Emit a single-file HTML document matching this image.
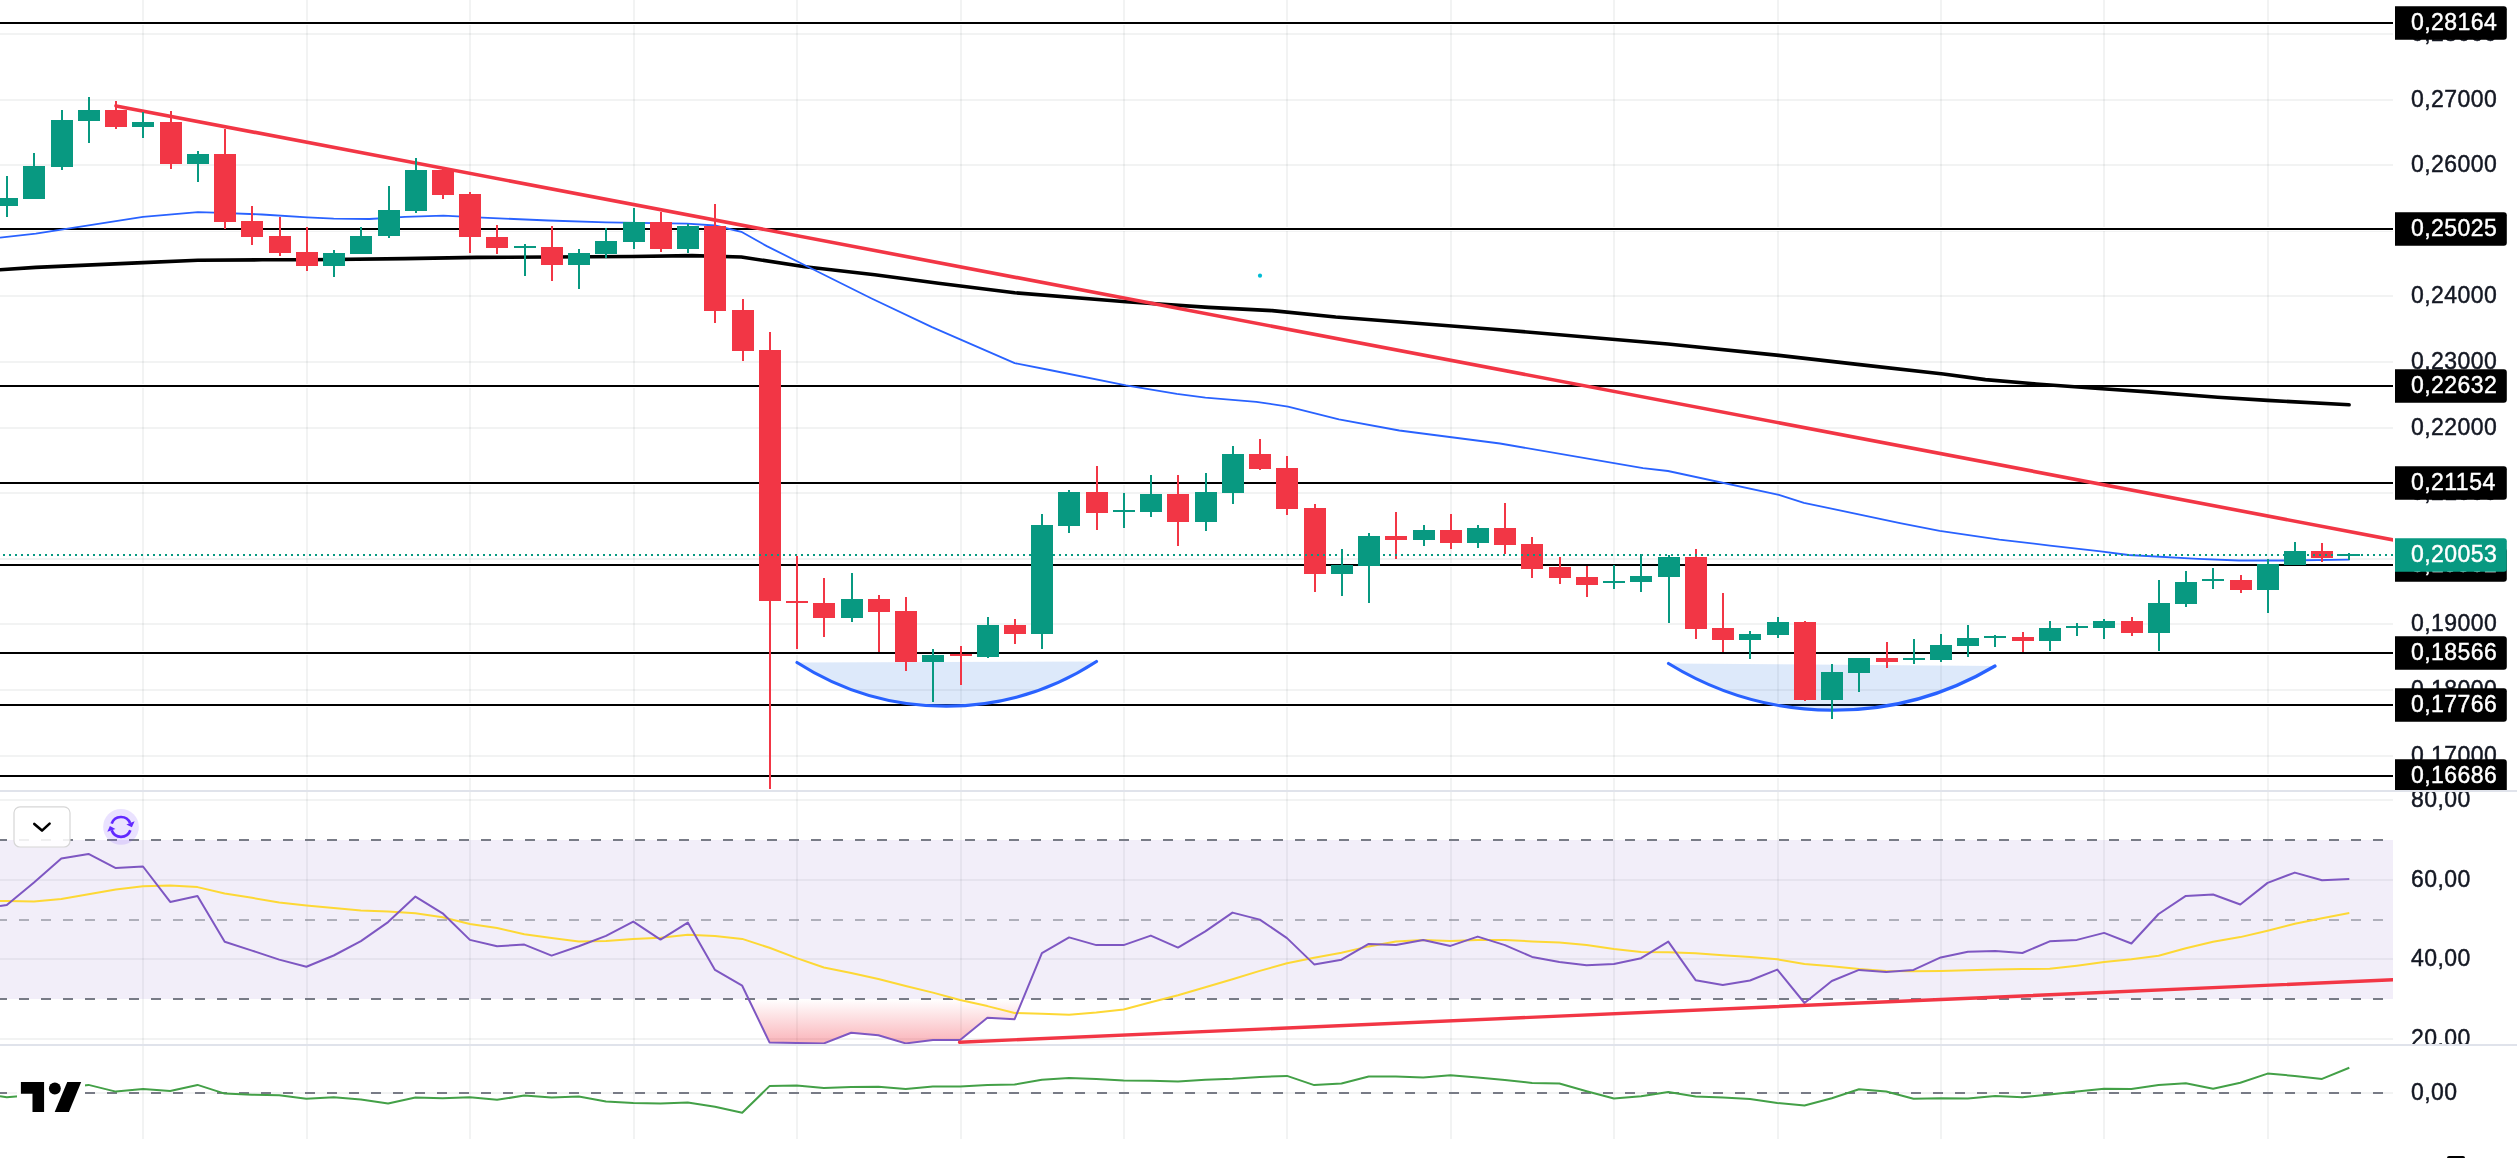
<!DOCTYPE html><html><head><meta charset="utf-8"><style>html,body{margin:0;padding:0;background:#fff;width:2517px;height:1158px;overflow:hidden}svg{display:block;will-change:transform}text{font-family:"Liberation Sans",sans-serif;font-size:23px;letter-spacing:0.48px;stroke-width:0.45px;paint-order:stroke}</style></head><body><svg width="2517" height="1158" viewBox="0 0 2517 1158"><defs><clipPath id="cm"><rect x="0" y="0" width="2393" height="790"/></clipPath><clipPath id="cr"><rect x="0" y="792" width="2393" height="252"/></clipPath><clipPath id="cb"><rect x="0" y="1046" width="2393" height="112"/></clipPath><clipPath id="am"><rect x="2393" y="0" width="124" height="790"/></clipPath><clipPath id="ar"><rect x="2393" y="792" width="124" height="252"/></clipPath><linearGradient id="os" gradientUnits="userSpaceOnUse" x1="0" y1="999" x2="0" y2="1118"><stop offset="0" stop-color="#F23645" stop-opacity="0"/><stop offset="1" stop-color="#F23645" stop-opacity="1"/></linearGradient></defs><rect width="2517" height="1158" fill="#fff"/><g shape-rendering="crispEdges"><rect x="142" y="0" width="2" height="1139" fill="rgba(42,46,57,0.06)"/><rect x="306" y="0" width="2" height="1139" fill="rgba(42,46,57,0.06)"/><rect x="469" y="0" width="2" height="1139" fill="rgba(42,46,57,0.06)"/><rect x="633" y="0" width="2" height="1139" fill="rgba(42,46,57,0.06)"/><rect x="796" y="0" width="2" height="1139" fill="rgba(42,46,57,0.06)"/><rect x="960" y="0" width="2" height="1139" fill="rgba(42,46,57,0.06)"/><rect x="1123" y="0" width="2" height="1139" fill="rgba(42,46,57,0.06)"/><rect x="1286" y="0" width="2" height="1139" fill="rgba(42,46,57,0.06)"/><rect x="1450" y="0" width="2" height="1139" fill="rgba(42,46,57,0.06)"/><rect x="1613" y="0" width="2" height="1139" fill="rgba(42,46,57,0.06)"/><rect x="1777" y="0" width="2" height="1139" fill="rgba(42,46,57,0.06)"/><rect x="1940" y="0" width="2" height="1139" fill="rgba(42,46,57,0.06)"/><rect x="2103" y="0" width="2" height="1139" fill="rgba(42,46,57,0.06)"/><rect x="2267" y="0" width="2" height="1139" fill="rgba(42,46,57,0.06)"/><rect x="0" y="33" width="2393" height="2" fill="rgba(42,46,57,0.06)"/><rect x="0" y="99" width="2393" height="2" fill="rgba(42,46,57,0.06)"/><rect x="0" y="164" width="2393" height="2" fill="rgba(42,46,57,0.06)"/><rect x="0" y="230" width="2393" height="2" fill="rgba(42,46,57,0.06)"/><rect x="0" y="295" width="2393" height="2" fill="rgba(42,46,57,0.06)"/><rect x="0" y="361" width="2393" height="2" fill="rgba(42,46,57,0.06)"/><rect x="0" y="427" width="2393" height="2" fill="rgba(42,46,57,0.06)"/><rect x="0" y="492" width="2393" height="2" fill="rgba(42,46,57,0.06)"/><rect x="0" y="558" width="2393" height="2" fill="rgba(42,46,57,0.06)"/><rect x="0" y="623" width="2393" height="2" fill="rgba(42,46,57,0.06)"/><rect x="0" y="689" width="2393" height="2" fill="rgba(42,46,57,0.06)"/><rect x="0" y="755" width="2393" height="2" fill="rgba(42,46,57,0.06)"/><rect x="0" y="799" width="2393" height="2" fill="rgba(42,46,57,0.06)"/><rect x="0" y="879" width="2393" height="2" fill="rgba(42,46,57,0.06)"/><rect x="0" y="958" width="2393" height="2" fill="rgba(42,46,57,0.06)"/><rect x="0" y="1038" width="2393" height="2" fill="rgba(42,46,57,0.06)"/></g><g clip-path="url(#cm)"><g shape-rendering="crispEdges"><rect x="0" y="21" width="2393" height="4" fill="#fff"/><rect x="0" y="22" width="2393" height="2" fill="#000"/><rect x="0" y="227" width="2393" height="4" fill="#fff"/><rect x="0" y="228" width="2393" height="2" fill="#000"/><rect x="0" y="384" width="2393" height="4" fill="#fff"/><rect x="0" y="385" width="2393" height="2" fill="#000"/><rect x="0" y="481" width="2393" height="4" fill="#fff"/><rect x="0" y="482" width="2393" height="2" fill="#000"/><rect x="0" y="563" width="2393" height="4" fill="#fff"/><rect x="0" y="564" width="2393" height="2" fill="#000"/><rect x="0" y="651" width="2393" height="4" fill="#fff"/><rect x="0" y="652" width="2393" height="2" fill="#000"/><rect x="0" y="703" width="2393" height="4" fill="#fff"/><rect x="0" y="704" width="2393" height="2" fill="#000"/><rect x="0" y="774" width="2393" height="4" fill="#fff"/><rect x="0" y="775" width="2393" height="2" fill="#000"/></g><polyline points="0.0,269.8 35.8,267.4 143.0,262.6 197.9,260.2 262.0,259.8 310.0,259.8 405.0,258.6 476.8,257.4 632.0,256.5 692.0,255.6 741.3,257.0 804.9,266.8 874.8,274.7 938.4,283.3 1014.7,292.8 1126.0,301.7 1208.6,307.4 1272.2,310.6 1335.7,317.0 1500.0,329.7 1668.0,344.0 1778.9,355.4 1857.5,364.4 1943.3,374.0 1985.4,379.6 2036.3,384.0 2098.7,388.5 2148.3,391.9 2217.8,397.2 2267.5,400.4 2349.1,404.8" fill="none" stroke="#000" stroke-width="3.6" stroke-linejoin="round" stroke-linecap="round"/><polyline points="0.0,237.6 35.8,233.6 143.0,216.9 197.9,212.1 214.5,212.6 262.0,214.5 307.5,217.4 333.7,218.6 369.5,219.0 405.0,216.9 443.4,215.7 476.8,217.4 548.3,220.5 606.0,222.3 687.0,223.7 715.0,225.5 741.3,231.8 766.8,246.1 804.9,265.2 871.6,298.5 932.0,327.1 1014.7,363.1 1049.6,370.0 1126.0,385.3 1176.8,393.9 1205.4,397.7 1256.3,401.8 1288.0,406.6 1338.9,419.3 1399.3,430.5 1500.0,443.5 1643.0,468.1 1668.0,471.0 1778.9,494.9 1803.9,502.8 1900.0,523.1 1939.7,530.8 1999.4,539.6 2050.0,545.6 2098.7,551.1 2128.5,555.0 2198.0,558.9 2238.8,560.5 2284.0,560.5 2349.6,559.7" fill="none" stroke="#2962FF" stroke-width="1.8" stroke-linejoin="round"/><path d="M797.0,662.5 A275.8,275.8 0 0 0 1096.5,661.5 Z" fill="#1c6cde" fill-opacity="0.15" stroke="none"/><path d="M797.0,662.5 A275.8,275.8 0 0 0 1096.5,661.5" fill="none" stroke="#2962FF" stroke-width="3.2" stroke-linecap="round"/><path d="M1668.5,663.5 A315.9,315.9 0 0 0 1995.0,666.0 Z" fill="#1c6cde" fill-opacity="0.15" stroke="none"/><path d="M1668.5,663.5 A315.9,315.9 0 0 0 1995.0,666.0" fill="none" stroke="#2962FF" stroke-width="3.2" stroke-linecap="round"/><line x1="116" y1="105.9" x2="2400" y2="541.2" stroke="#F23645" stroke-width="3.6" stroke-linecap="round"/><circle cx="1260" cy="275.7" r="2.1" fill="#00bcd4"/><g shape-rendering="crispEdges"><rect x="6" y="176.0" width="2" height="40.6" fill="#089981"/><rect x="-4" y="198.2" width="22" height="7.8" fill="#089981"/><rect x="33" y="153.0" width="2" height="46.0" fill="#089981"/><rect x="23" y="166.0" width="22" height="32.7" fill="#089981"/><rect x="61" y="110.0" width="2" height="59.7" fill="#089981"/><rect x="51" y="120.0" width="22" height="46.6" fill="#089981"/><rect x="88" y="97.0" width="2" height="45.7" fill="#089981"/><rect x="78" y="110.0" width="22" height="10.5" fill="#089981"/><rect x="115" y="101.0" width="2" height="27.7" fill="#F23645"/><rect x="105" y="110.2" width="22" height="16.6" fill="#F23645"/><rect x="142" y="112.1" width="2" height="25.7" fill="#089981"/><rect x="132" y="122.1" width="22" height="4.7" fill="#089981"/><rect x="170" y="111.0" width="2" height="57.6" fill="#F23645"/><rect x="160" y="122.0" width="22" height="41.7" fill="#F23645"/><rect x="197" y="151.0" width="2" height="30.9" fill="#089981"/><rect x="187" y="154.0" width="22" height="9.7" fill="#089981"/><rect x="224" y="128.8" width="2" height="99.7" fill="#F23645"/><rect x="214" y="154.0" width="22" height="67.8" fill="#F23645"/><rect x="251" y="206.0" width="2" height="38.8" fill="#F23645"/><rect x="241" y="221.0" width="22" height="15.5" fill="#F23645"/><rect x="279" y="217.0" width="2" height="39.0" fill="#F23645"/><rect x="269" y="236.0" width="22" height="16.6" fill="#F23645"/><rect x="306" y="227.0" width="2" height="43.7" fill="#F23645"/><rect x="296" y="251.8" width="22" height="14.0" fill="#F23645"/><rect x="333" y="250.0" width="2" height="26.7" fill="#089981"/><rect x="323" y="253.0" width="22" height="12.8" fill="#089981"/><rect x="360" y="227.0" width="2" height="26.6" fill="#089981"/><rect x="350" y="236.0" width="22" height="17.6" fill="#089981"/><rect x="388" y="186.0" width="2" height="51.6" fill="#089981"/><rect x="378" y="210.0" width="22" height="26.0" fill="#089981"/><rect x="415" y="158.0" width="2" height="54.7" fill="#089981"/><rect x="405" y="170.0" width="22" height="40.6" fill="#089981"/><rect x="442" y="166.6" width="2" height="32.1" fill="#F23645"/><rect x="432" y="170.0" width="22" height="24.6" fill="#F23645"/><rect x="469" y="192.0" width="2" height="60.6" fill="#F23645"/><rect x="459" y="194.0" width="22" height="42.5" fill="#F23645"/><rect x="496" y="225.0" width="2" height="28.6" fill="#F23645"/><rect x="486" y="237.0" width="22" height="11.4" fill="#F23645"/><rect x="524" y="244.0" width="2" height="31.6" fill="#089981"/><rect x="514" y="245.9" width="22" height="2.1" fill="#089981"/><rect x="551" y="226.0" width="2" height="54.6" fill="#F23645"/><rect x="541" y="247.0" width="22" height="18.3" fill="#F23645"/><rect x="578" y="249.0" width="2" height="40.4" fill="#089981"/><rect x="568" y="253.0" width="22" height="12.3" fill="#089981"/><rect x="605" y="227.6" width="2" height="30.1" fill="#089981"/><rect x="595" y="241.0" width="22" height="12.7" fill="#089981"/><rect x="633" y="208.0" width="2" height="40.7" fill="#089981"/><rect x="623" y="222.0" width="22" height="19.5" fill="#089981"/><rect x="660" y="211.6" width="2" height="40.1" fill="#F23645"/><rect x="650" y="222.0" width="22" height="26.7" fill="#F23645"/><rect x="687" y="223.7" width="2" height="29.0" fill="#089981"/><rect x="677" y="226.0" width="22" height="22.7" fill="#089981"/><rect x="714" y="203.8" width="2" height="119.2" fill="#F23645"/><rect x="704" y="226.0" width="22" height="84.7" fill="#F23645"/><rect x="742" y="299.0" width="2" height="62.0" fill="#F23645"/><rect x="732" y="310.0" width="22" height="40.6" fill="#F23645"/><rect x="769" y="332.0" width="2" height="457.2" fill="#F23645"/><rect x="759" y="350.0" width="22" height="251.3" fill="#F23645"/><rect x="796" y="555.7" width="2" height="93.2" fill="#F23645"/><rect x="786" y="600.8" width="22" height="2.0" fill="#F23645"/><rect x="823" y="578.2" width="2" height="58.3" fill="#F23645"/><rect x="813" y="603.3" width="22" height="14.4" fill="#F23645"/><rect x="851" y="573.0" width="2" height="49.0" fill="#089981"/><rect x="841" y="599.0" width="22" height="18.7" fill="#089981"/><rect x="878" y="594.8" width="2" height="57.0" fill="#F23645"/><rect x="868" y="599.0" width="22" height="12.8" fill="#F23645"/><rect x="905" y="597.0" width="2" height="73.6" fill="#F23645"/><rect x="895" y="611.0" width="22" height="50.7" fill="#F23645"/><rect x="932" y="649.3" width="2" height="52.3" fill="#089981"/><rect x="922" y="655.0" width="22" height="6.7" fill="#089981"/><rect x="960" y="646.0" width="2" height="38.8" fill="#F23645"/><rect x="950" y="653.8" width="22" height="2.0" fill="#F23645"/><rect x="987" y="617.0" width="2" height="40.8" fill="#089981"/><rect x="977" y="624.8" width="22" height="31.9" fill="#089981"/><rect x="1014" y="619.0" width="2" height="24.7" fill="#F23645"/><rect x="1004" y="624.8" width="22" height="8.8" fill="#F23645"/><rect x="1041" y="514.3" width="2" height="134.7" fill="#089981"/><rect x="1031" y="524.8" width="22" height="108.9" fill="#089981"/><rect x="1068" y="490.0" width="2" height="43.0" fill="#089981"/><rect x="1058" y="491.8" width="22" height="33.7" fill="#089981"/><rect x="1096" y="466.0" width="2" height="64.0" fill="#F23645"/><rect x="1086" y="491.8" width="22" height="20.9" fill="#F23645"/><rect x="1123" y="493.0" width="2" height="34.7" fill="#089981"/><rect x="1113" y="509.8" width="22" height="2.2" fill="#089981"/><rect x="1150" y="474.8" width="2" height="42.2" fill="#089981"/><rect x="1140" y="493.6" width="22" height="18.2" fill="#089981"/><rect x="1177" y="474.8" width="2" height="70.9" fill="#F23645"/><rect x="1167" y="493.6" width="22" height="28.1" fill="#F23645"/><rect x="1205" y="473.0" width="2" height="57.7" fill="#089981"/><rect x="1195" y="491.8" width="22" height="29.9" fill="#089981"/><rect x="1232" y="446.0" width="2" height="57.7" fill="#089981"/><rect x="1222" y="454.0" width="22" height="38.7" fill="#089981"/><rect x="1259" y="439.0" width="2" height="30.8" fill="#F23645"/><rect x="1249" y="454.0" width="22" height="14.5" fill="#F23645"/><rect x="1286" y="456.0" width="2" height="58.7" fill="#F23645"/><rect x="1276" y="468.0" width="22" height="40.7" fill="#F23645"/><rect x="1314" y="504.0" width="2" height="87.7" fill="#F23645"/><rect x="1304" y="508.0" width="22" height="65.8" fill="#F23645"/><rect x="1341" y="549.1" width="2" height="46.7" fill="#089981"/><rect x="1331" y="565.3" width="22" height="8.4" fill="#089981"/><rect x="1368" y="532.9" width="2" height="69.8" fill="#089981"/><rect x="1358" y="536.0" width="22" height="29.7" fill="#089981"/><rect x="1395" y="512.0" width="2" height="46.8" fill="#F23645"/><rect x="1385" y="536.0" width="22" height="3.7" fill="#F23645"/><rect x="1423" y="524.9" width="2" height="21.1" fill="#089981"/><rect x="1413" y="530.0" width="22" height="9.7" fill="#089981"/><rect x="1450" y="513.9" width="2" height="34.9" fill="#F23645"/><rect x="1440" y="530.0" width="22" height="12.9" fill="#F23645"/><rect x="1477" y="525.0" width="2" height="23.0" fill="#089981"/><rect x="1467" y="528.0" width="22" height="14.9" fill="#089981"/><rect x="1504" y="502.8" width="2" height="51.1" fill="#F23645"/><rect x="1494" y="528.0" width="22" height="16.7" fill="#F23645"/><rect x="1531" y="537.0" width="2" height="40.8" fill="#F23645"/><rect x="1521" y="544.0" width="22" height="24.8" fill="#F23645"/><rect x="1559" y="557.0" width="2" height="26.9" fill="#F23645"/><rect x="1549" y="567.0" width="22" height="10.8" fill="#F23645"/><rect x="1586" y="565.7" width="2" height="31.2" fill="#F23645"/><rect x="1576" y="577.0" width="22" height="7.7" fill="#F23645"/><rect x="1613" y="565.2" width="2" height="23.7" fill="#089981"/><rect x="1603" y="581.0" width="22" height="2.0" fill="#089981"/><rect x="1640" y="554.3" width="2" height="37.5" fill="#089981"/><rect x="1630" y="576.0" width="22" height="6.4" fill="#089981"/><rect x="1668" y="555.0" width="2" height="67.9" fill="#089981"/><rect x="1658" y="557.1" width="22" height="19.6" fill="#089981"/><rect x="1695" y="549.0" width="2" height="89.7" fill="#F23645"/><rect x="1685" y="557.1" width="22" height="71.7" fill="#F23645"/><rect x="1722" y="593.2" width="2" height="58.7" fill="#F23645"/><rect x="1712" y="628.1" width="22" height="11.5" fill="#F23645"/><rect x="1749" y="631.0" width="2" height="27.9" fill="#089981"/><rect x="1739" y="634.0" width="22" height="5.6" fill="#089981"/><rect x="1777" y="617.0" width="2" height="21.0" fill="#089981"/><rect x="1767" y="622.0" width="22" height="12.5" fill="#089981"/><rect x="1804" y="620.8" width="2" height="80.1" fill="#F23645"/><rect x="1794" y="622.0" width="22" height="77.6" fill="#F23645"/><rect x="1831" y="664.0" width="2" height="54.8" fill="#089981"/><rect x="1821" y="672.0" width="22" height="27.6" fill="#089981"/><rect x="1858" y="658.0" width="2" height="33.6" fill="#089981"/><rect x="1848" y="658.0" width="22" height="14.9" fill="#089981"/><rect x="1886" y="642.0" width="2" height="25.8" fill="#F23645"/><rect x="1876" y="658.1" width="22" height="3.6" fill="#F23645"/><rect x="1913" y="639.0" width="2" height="25.0" fill="#089981"/><rect x="1903" y="657.9" width="22" height="2.0" fill="#089981"/><rect x="1940" y="634.0" width="2" height="27.9" fill="#089981"/><rect x="1930" y="645.0" width="22" height="14.5" fill="#089981"/><rect x="1967" y="625.2" width="2" height="31.5" fill="#089981"/><rect x="1957" y="637.9" width="22" height="7.8" fill="#089981"/><rect x="1994" y="635.2" width="2" height="11.6" fill="#089981"/><rect x="1984" y="635.9" width="22" height="2.0" fill="#089981"/><rect x="2022" y="632.0" width="2" height="19.8" fill="#F23645"/><rect x="2012" y="637.0" width="22" height="3.8" fill="#F23645"/><rect x="2049" y="621.0" width="2" height="29.7" fill="#089981"/><rect x="2039" y="628.0" width="22" height="12.8" fill="#089981"/><rect x="2076" y="623.0" width="2" height="12.8" fill="#089981"/><rect x="2066" y="625.8" width="22" height="2.0" fill="#089981"/><rect x="2103" y="619.0" width="2" height="19.8" fill="#089981"/><rect x="2093" y="621.0" width="22" height="6.8" fill="#089981"/><rect x="2131" y="617.0" width="2" height="18.8" fill="#F23645"/><rect x="2121" y="621.0" width="22" height="11.7" fill="#F23645"/><rect x="2158" y="580.0" width="2" height="70.7" fill="#089981"/><rect x="2148" y="603.2" width="22" height="29.5" fill="#089981"/><rect x="2185" y="571.1" width="2" height="35.8" fill="#089981"/><rect x="2175" y="582.0" width="22" height="21.8" fill="#089981"/><rect x="2212" y="568.2" width="2" height="20.8" fill="#089981"/><rect x="2202" y="579.0" width="22" height="2.0" fill="#089981"/><rect x="2240" y="575.0" width="2" height="17.9" fill="#F23645"/><rect x="2230" y="580.0" width="22" height="9.8" fill="#F23645"/><rect x="2267" y="559.2" width="2" height="53.7" fill="#089981"/><rect x="2257" y="564.0" width="22" height="25.8" fill="#089981"/><rect x="2294" y="542.0" width="2" height="22.7" fill="#089981"/><rect x="2284" y="551.0" width="22" height="13.7" fill="#089981"/><rect x="2321" y="543.0" width="2" height="18.8" fill="#F23645"/><rect x="2311" y="551.0" width="22" height="6.7" fill="#F23645"/><rect x="2348" y="553.0" width="2" height="7.3" fill="#089981"/><rect x="2338" y="553.8" width="22" height="2.0" fill="#089981"/></g><line x1="3" y1="555" x2="2393" y2="555" stroke="#089981" stroke-width="2" stroke-dasharray="2 4" shape-rendering="crispEdges"/></g><g clip-path="url(#cr)"><rect x="0" y="840" width="2393" height="159" fill="#7E57C2" fill-opacity="0.1"/><polygon points="748.6,999.0 769.5,1042.4 796.7,1042.9 823.9,1043.4 851.2,1032.8 878.4,1035.2 905.7,1043.4 932.9,1040.1 960.1,1040.1 987.4,1017.7 1014.6,1019.2 1023.0,999.0" fill="url(#os)"/><g shape-rendering="crispEdges" stroke-width="2" stroke-dasharray="10 12" stroke-dashoffset="3"><line x1="0" y1="840" x2="2393" y2="840" stroke="#787B86"/><line x1="0" y1="920" x2="2393" y2="920" stroke="#787B86" stroke-opacity="0.55"/><line x1="0" y1="999" x2="2393" y2="999" stroke="#787B86"/></g><polyline points="0.0,901.0 6.8,901.0 34.0,901.4 61.3,899.0 88.5,894.3 115.8,889.5 143.0,886.2 170.2,885.5 197.5,887.1 224.7,893.5 252.0,897.8 279.2,902.6 306.4,905.4 333.7,908.0 360.9,910.4 388.1,911.6 415.4,913.3 442.6,917.3 469.9,924.0 497.1,928.0 524.3,934.2 551.6,938.0 578.8,941.4 606.0,941.1 633.3,938.9 660.5,937.7 687.8,934.7 715.0,935.9 742.2,938.9 769.5,947.8 796.7,958.1 823.9,967.5 851.2,972.9 878.4,979.0 905.7,986.0 932.9,992.6 960.1,1000.0 987.4,1006.1 1014.6,1013.0 1041.9,1013.8 1069.1,1014.8 1096.3,1012.5 1123.6,1009.5 1150.8,1002.2 1178.0,995.2 1205.3,987.2 1232.5,979.2 1259.8,970.9 1287.0,963.2 1314.2,957.7 1341.5,952.7 1368.7,946.4 1395.9,941.4 1423.2,940.1 1450.4,940.9 1477.7,940.1 1504.9,940.1 1532.1,941.4 1559.4,942.6 1586.6,945.1 1613.9,948.9 1641.1,951.9 1668.3,952.2 1695.6,953.2 1722.8,955.2 1750.0,957.1 1777.3,959.3 1804.5,964.1 1831.8,966.3 1859.0,969.1 1886.2,971.0 1913.5,971.3 1940.7,971.0 1967.9,970.2 1995.2,969.6 2022.4,969.1 2049.7,968.8 2076.9,965.7 2104.1,962.1 2131.4,959.3 2158.6,955.7 2185.8,948.2 2213.1,941.8 2240.3,937.1 2267.6,930.7 2294.8,923.7 2322.0,918.2 2349.3,912.9" fill="none" stroke="#FDD835" stroke-width="2" stroke-linejoin="round"/><polyline points="0.0,906.1 6.8,905.0 34.0,882.4 61.3,858.6 88.5,853.9 115.8,868.1 143.0,866.5 170.2,901.9 197.5,895.9 224.7,941.8 252.0,950.6 279.2,959.6 306.4,966.7 333.7,955.5 360.9,941.1 388.1,922.1 415.4,896.6 442.6,913.3 469.9,939.9 497.1,946.3 524.3,944.6 551.6,955.6 578.8,946.3 606.0,935.9 633.3,921.6 660.5,939.6 687.8,922.6 715.0,969.9 742.2,985.7 769.5,1042.4 796.7,1042.9 823.9,1043.4 851.2,1032.8 878.4,1035.2 905.7,1043.4 932.9,1040.1 960.1,1040.1 987.4,1017.7 1014.6,1019.2 1041.9,953.2 1069.1,937.4 1096.3,945.1 1123.6,945.1 1150.8,935.6 1178.0,947.6 1205.3,931.4 1232.5,912.6 1259.8,919.6 1287.0,938.1 1314.2,964.4 1341.5,959.7 1368.7,943.9 1395.9,945.1 1423.2,940.1 1450.4,945.9 1477.7,936.6 1504.9,945.1 1532.1,956.9 1559.4,961.9 1586.6,965.2 1613.9,963.9 1641.1,958.2 1668.3,941.6 1695.6,980.2 1722.8,984.9 1750.0,980.5 1777.3,969.6 1804.5,1003.0 1831.8,981.0 1859.0,969.9 1886.2,971.9 1913.5,969.9 1940.7,957.4 1967.9,951.8 1995.2,951.0 2022.4,953.0 2049.7,941.3 2076.9,939.9 2104.1,932.9 2131.4,943.5 2158.6,914.0 2185.8,895.9 2213.1,894.5 2240.3,904.5 2267.6,882.9 2294.8,872.6 2322.0,880.3 2349.3,879.0" fill="none" stroke="#7E57C2" stroke-width="2" stroke-linejoin="round"/><line x1="959.5" y1="1042.2" x2="2400" y2="979.5" stroke="#F23645" stroke-width="3.4" stroke-linecap="round"/><rect x="14" y="806.8" width="56" height="40.2" rx="6" fill="#fff" fill-opacity="0.88" stroke="#d6d6d6" stroke-width="1.2"/><polyline points="34.3,823.9 42,830.6 49.6,823.6" fill="none" stroke="#000" stroke-width="2.6" stroke-linecap="round" stroke-linejoin="round"/><circle cx="121" cy="826.9" r="17.9" fill="#7c4dff" fill-opacity="0.16"/><g fill="none" stroke="#6229ff" stroke-width="2.7"><path d="M111.67,823.6 A9.9,9.9 0 0 1 130.1,823.0"/><path d="M130.33,830.2 A9.9,9.9 0 0 1 111.67,830.2"/></g><polygon points="134.6,821.3 126.4,824.5 131.9,827.2" fill="#6229ff"/><polygon points="115.4,828.9 107.3,831.7 109.9,826.1" fill="#6229ff"/></g><g clip-path="url(#cb)"><rect x="0" y="1092" width="2393" height="2" fill="rgba(42,46,57,0.06)" shape-rendering="crispEdges"/><line x1="0" y1="1093" x2="2393" y2="1093" stroke="#787B86" stroke-width="2" stroke-dasharray="10 12" stroke-dashoffset="3" shape-rendering="crispEdges"/><polyline points="0.0,1096.2 6.8,1097.2 34.0,1095.0 61.3,1088.0 88.5,1084.9 115.8,1091.6 143.0,1088.9 170.2,1091.1 197.5,1084.9 224.7,1093.6 252.0,1094.8 279.2,1095.2 306.4,1098.8 333.7,1097.2 360.9,1099.6 388.1,1103.6 415.4,1097.6 442.6,1098.2 469.9,1097.2 497.1,1099.8 524.3,1095.6 551.6,1097.5 578.8,1096.6 606.0,1101.4 633.3,1103.0 660.5,1103.6 687.8,1102.6 715.0,1106.8 742.2,1112.8 769.5,1086.1 796.7,1085.5 823.9,1088.0 851.2,1087.0 878.4,1086.7 905.7,1089.0 932.9,1086.4 960.1,1086.4 987.4,1085.1 1014.6,1084.5 1041.9,1079.7 1069.1,1078.1 1096.3,1079.1 1123.6,1080.4 1150.8,1080.7 1178.0,1081.6 1205.3,1079.7 1232.5,1078.8 1259.8,1076.9 1287.0,1075.9 1314.2,1085.1 1341.5,1083.5 1368.7,1076.5 1395.9,1076.5 1423.2,1077.5 1450.4,1075.3 1477.7,1077.5 1504.9,1080.0 1532.1,1082.9 1559.4,1083.5 1586.6,1091.2 1613.9,1098.5 1641.1,1096.3 1668.3,1092.1 1695.6,1096.6 1722.8,1097.5 1750.0,1099.1 1777.3,1103.0 1804.5,1105.5 1831.8,1098.2 1859.0,1089.3 1886.2,1091.5 1913.5,1098.8 1940.7,1098.2 1967.9,1098.5 1995.2,1096.0 2022.4,1097.2 2049.7,1094.4 2076.9,1091.4 2104.1,1088.7 2131.4,1089.0 2158.6,1085.0 2185.8,1083.2 2213.1,1088.7 2240.3,1082.8 2267.6,1073.6 2294.8,1075.9 2322.0,1078.9 2349.3,1067.8" fill="none" stroke="#43A047" stroke-width="2" stroke-linejoin="round"/><rect x="17" y="1070" width="68" height="48" fill="#fff"/><g transform="translate(20.9,1075.5) scale(1.656)" fill="#000"><path d="M14 22H7V11H0V4h14v18z"/><path d="M29 22h-8.6l7.6-18h8.4z"/><circle cx="20.5" cy="7.8" r="3.6"/></g></g><rect x="0" y="790" width="2517" height="2" fill="#e0e3eb" shape-rendering="crispEdges"/><rect x="0" y="1044" width="2517" height="2" fill="#e0e3eb" shape-rendering="crispEdges"/><g clip-path="url(#am)"><text x="2410.9" y="40.9" fill="#131722" stroke="#131722">0,28000</text><text x="2410.9" y="106.9" fill="#131722" stroke="#131722">0,27000</text><text x="2410.9" y="171.9" fill="#131722" stroke="#131722">0,26000</text><text x="2410.9" y="237.9" fill="#131722" stroke="#131722">0,25000</text><text x="2410.9" y="302.9" fill="#131722" stroke="#131722">0,24000</text><text x="2410.9" y="368.9" fill="#131722" stroke="#131722">0,23000</text><text x="2410.9" y="434.9" fill="#131722" stroke="#131722">0,22000</text><text x="2410.9" y="499.9" fill="#131722" stroke="#131722">0,21000</text><text x="2410.9" y="565.9" fill="#131722" stroke="#131722">0,20000</text><text x="2410.9" y="630.9" fill="#131722" stroke="#131722">0,19000</text><text x="2410.9" y="696.9" fill="#131722" stroke="#131722">0,18000</text><text x="2410.9" y="762.9" fill="#131722" stroke="#131722">0,17000</text><path d="M2395,6.15 h108.8 a3,3 0 0 1 3,3 v27.7 a3,3 0 0 1 -3,3 h-108.8 z" fill="#000"/><text x="2410.9" y="29.9" fill="#fff" stroke="#fff">0,28164</text><path d="M2395,212.15 h108.8 a3,3 0 0 1 3,3 v27.7 a3,3 0 0 1 -3,3 h-108.8 z" fill="#000"/><text x="2410.9" y="235.9" fill="#fff" stroke="#fff">0,25025</text><path d="M2395,369.15 h108.8 a3,3 0 0 1 3,3 v27.7 a3,3 0 0 1 -3,3 h-108.8 z" fill="#000"/><text x="2410.9" y="392.9" fill="#fff" stroke="#fff">0,22632</text><path d="M2395,466.15 h108.8 a3,3 0 0 1 3,3 v27.7 a3,3 0 0 1 -3,3 h-108.8 z" fill="#000"/><text x="2410.9" y="489.9" fill="#fff" stroke="#fff">0,21154</text><path d="M2395,548.15 h108.8 a3,3 0 0 1 3,3 v27.7 a3,3 0 0 1 -3,3 h-108.8 z" fill="#000"/><text x="2410.9" y="571.9" fill="#fff" stroke="#fff">0,19902</text><path d="M2395,636.15 h108.8 a3,3 0 0 1 3,3 v27.7 a3,3 0 0 1 -3,3 h-108.8 z" fill="#000"/><text x="2410.9" y="659.9" fill="#fff" stroke="#fff">0,18566</text><path d="M2395,688.15 h108.8 a3,3 0 0 1 3,3 v27.7 a3,3 0 0 1 -3,3 h-108.8 z" fill="#000"/><text x="2410.9" y="711.9" fill="#fff" stroke="#fff">0,17766</text><path d="M2395,759.15 h108.8 a3,3 0 0 1 3,3 v27.7 a3,3 0 0 1 -3,3 h-108.8 z" fill="#000"/><text x="2410.9" y="782.9" fill="#fff" stroke="#fff">0,16686</text><path d="M2395,538.15 h108.8 a3,3 0 0 1 3,3 v27.7 a3,3 0 0 1 -3,3 h-108.8 z" fill="#089981"/><text x="2410.9" y="561.9" fill="#fff" stroke="#fff">0,20053</text></g><g clip-path="url(#ar)"><text x="2410.9" y="806.9" fill="#131722" stroke="#131722">80,00</text><text x="2410.9" y="886.9" fill="#131722" stroke="#131722">60,00</text><text x="2410.9" y="965.9" fill="#131722" stroke="#131722">40,00</text><text x="2410.9" y="1045.6" fill="#131722" stroke="#131722">20,00</text></g><text x="2410.9" y="1099.5" fill="#131722" stroke="#131722">0,00</text><rect x="2447" y="1156" width="18" height="6" rx="2" fill="#000"/></svg></body></html>
